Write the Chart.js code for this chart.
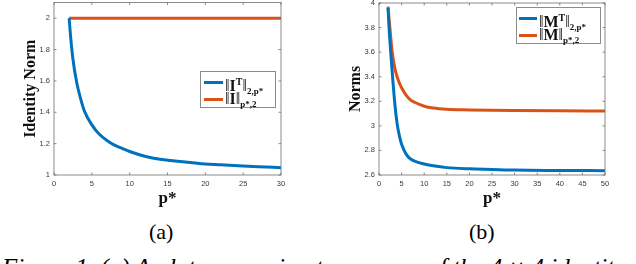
<!DOCTYPE html>
<html>
<head>
<meta charset="utf-8">
<script src="https://cdn.jsdelivr.net/npm/chart.js@4/dist/chart.umd.min.js"></script>
<style>
    html, body { margin: 0; padding: 0; background: #fff; }
    #page { position: relative; width: 636px; height: 264px; overflow: hidden; background: #fff; }
    .plot { position: absolute; top: 0; }
    .legend {
        position: absolute; background: #fff; border: 1px solid #8c8c8c;
        font-family: 'Liberation Serif', serif; font-weight: bold; color: #111;
    }
    .legend .row { position: absolute; left: 0; height: 16px; white-space: nowrap; }
    .legend .swatch { position: absolute; top: 7px; height: 3px; }
    .legend .lbl { position: absolute; top: -1px; font-size: 16px; line-height: 17px; }
    .legend .bar { font-weight: normal; }
    .legend sup { font-size: 10px; vertical-align: 6px; }
    .legend sub { font-size: 9px; vertical-align: -3px; }
    .cap { position: absolute; font-family: 'Liberation Serif', serif; font-size: 22px; line-height: 24px; color: #000; }
</style>
</head>
<body>
<div id="page">
    <div class="plot" style="left:0;width:300px;height:215px;"><canvas id="chartA"></canvas></div>
    <div class="plot" style="left:316px;width:320px;height:215px;"><canvas id="chartB"></canvas></div>

    <div class="legend" style="left:200px;top:71px;width:74px;height:35px;">
        <div class="row" style="top:2px;"><div class="swatch" style="left:3px;width:19px;background:#0072BD;"></div>
            <div class="lbl" style="left:24px;"><span class="bar">‖</span>I<sup>T</sup><span class="bar">‖</span><sub>2,p*</sub></div></div>
        <div class="row" style="top:19px;"><div class="swatch" style="left:3px;width:19px;background:#D95319;"></div>
            <div class="lbl" style="left:24px;"><span class="bar">‖</span>I<span class="bar">‖</span><sub>p*,2</sub></div></div>
    </div>
    <div class="legend" style="left:516px;top:7px;width:83px;height:35px;">
        <div class="row" style="top:2px;"><div class="swatch" style="left:2px;width:18px;background:#0072BD;"></div>
            <div class="lbl" style="left:22px;"><span class="bar">‖</span>M<sup>T</sup><span class="bar">‖</span><sub>2,p*</sub></div></div>
        <div class="row" style="top:19px;"><div class="swatch" style="left:2px;width:18px;background:#D95319;"></div>
            <div class="lbl" style="left:22px;"><span class="bar">‖</span>M<span class="bar">‖</span><sub>p*,2</sub></div></div>
    </div>

    <div class="cap" style="left:149px;top:220px;">(a)</div>
    <div class="cap" style="left:469px;top:220px;">(b)</div>
    <div class="cap" style="left:2px;top:256px;font-style:italic;white-space:nowrap;font-size:25px;">Figure 1. (a) A plot comparing two norms of the 4 × 4 identity</div>
</div>

<script>
// ---- (a) identity matrix norms ----
const pA = [2, 2.2, 2.5, 3, 3.5, 4, 5, 6, 7, 8, 9, 10, 12, 14, 16, 18, 20, 22, 25, 28, 30];
const identT = [2.00, 1.88, 1.74, 1.59, 1.49, 1.41, 1.32, 1.26, 1.22, 1.19, 1.17, 1.15, 1.12, 1.10, 1.09, 1.08, 1.07, 1.065, 1.057, 1.051, 1.047];
const pA2 = [2, 30];
const ident = [2, 2];

// ---- (b) M norms ----
const pB = [2, 2.25, 2.5, 2.75, 3, 3.5, 4, 4.5, 5, 6, 7, 8, 10, 12, 15, 20, 25, 30, 40, 50];
const normMT = [3.96, 3.78, 3.65, 3.52, 3.40, 3.18, 3.02, 2.92, 2.85, 2.77, 2.73, 2.71, 2.69, 2.675, 2.66, 2.65, 2.645, 2.64, 2.637, 2.635];
const normM = [3.97, 3.86, 3.76, 3.66, 3.58, 3.47, 3.40, 3.35, 3.31, 3.25, 3.21, 3.19, 3.16, 3.145, 3.135, 3.13, 3.127, 3.125, 3.122, 3.12];

const BLUE = '#0072BD';
const ORANGE = '#D95319';
const AXIS = '#6e6e6e';
const TICKTXT = '#3a3a3a';

const pts = (xs, ys) => xs.map((x, i) => ({ x: x, y: ys[i] }));

// matlab style box with inward ticks on all four sides
const boxTicks = {
    id: 'boxTicks',
    afterDraw(chart) {
        const { ctx, chartArea: a, scales } = chart;
        const len = 2.5;
        ctx.save();
        ctx.strokeStyle = AXIS;
        ctx.lineWidth = 0.8;
        ctx.strokeRect(a.left, a.top, a.right - a.left, a.bottom - a.top);
        ctx.beginPath();
        scales.x.ticks.forEach(t => {
            const px = scales.x.getPixelForValue(t.value);
            ctx.moveTo(px, a.bottom); ctx.lineTo(px, a.bottom - len);
            ctx.moveTo(px, a.top); ctx.lineTo(px, a.top + len);
        });
        scales.y.ticks.forEach(t => {
            const py = scales.y.getPixelForValue(t.value);
            ctx.moveTo(a.left, py); ctx.lineTo(a.left + len, py);
            ctx.moveTo(a.right, py); ctx.lineTo(a.right - len, py);
        });
        ctx.stroke();
        ctx.restore();
    }
};

function makeChart(id, cfg) {
    const line = (data, color) => ({
        data: data, showLine: true, borderColor: color, borderWidth: 3,
        pointRadius: 0, cubicInterpolationMode: 'monotone', fill: false
    });
    return new Chart(document.getElementById(id), {
        type: 'scatter',
        data: { datasets: [line(cfg.blue, BLUE), line(cfg.orange, ORANGE)] },
        options: {
            responsive: true,
            maintainAspectRatio: false,
            animation: false,
            events: [],
            layout: { padding: cfg.padding },
            plugins: { legend: { display: false }, tooltip: { enabled: false } },
            scales: {
                x: {
                    type: 'linear', min: cfg.xMin, max: cfg.xMax,
                    grid: { display: false, drawTicks: false },
                    border: { display: false },
                    ticks: { stepSize: cfg.xStep, padding: 4, color: TICKTXT, font: { family: 'Liberation Sans', size: 7.5 }, maxRotation: 0 },
                    title: { display: true, text: 'p*', color: '#111', padding: { top: 0, bottom: 6 },
                        font: { family: 'Liberation Serif', size: 17, weight: 'bold' } },
                    afterFit: s => { s.height = 40; s.paddingLeft = 0; s.paddingRight = 0; }
                },
                y: {
                    min: cfg.yMin, max: cfg.yMax,
                    grid: { display: false, drawTicks: false },
                    border: { display: false },
                    ticks: { stepSize: 0.2, includeBounds: false, padding: 4, color: TICKTXT,
                        font: { family: 'Liberation Sans', size: 7.5 },
                        callback: v => Math.round(v * 10) / 10 },
                    title: { display: true, text: cfg.yTitle, color: '#111', padding: { top: cfg.yTitlePad, bottom: 0 },
                        font: { family: 'Liberation Serif', size: 16, weight: 'bold' } },
                    afterFit: s => { s.width = cfg.yWidth; s.paddingTop = 0; s.paddingBottom = 0; }
                }
            }
        },
        plugins: [boxTicks]
    });
}

makeChart('chartA', {
    blue: pts(pA, identT), orange: pts(pA2, ident),
    xMin: 0, xMax: 30, xStep: 5, yMin: 1, yMax: 2.1,
    yTitle: 'Identity Norm', yTitlePad: 21, yWidth: 54,
    padding: { left: 0, top: 2.5, right: 19, bottom: 0 }
});

makeChart('chartB', {
    blue: pts(pB, normMT), orange: pts(pB, normM),
    xMin: 0, xMax: 50, xStep: 5, yMin: 2.6, yMax: 4,
    yTitle: 'Norms', yTitlePad: 30, yWidth: 63,
    padding: { left: 0, top: 3, right: 31, bottom: 0 }
});
</script>
</body>
</html>
